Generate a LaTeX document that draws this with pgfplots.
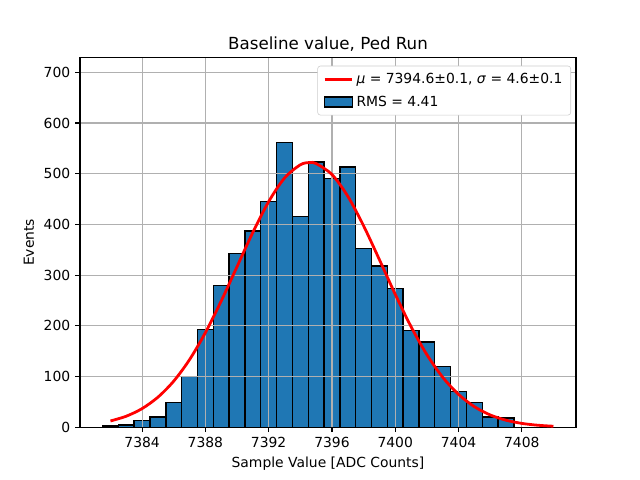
\documentclass[border=0pt]{standalone}
\usepackage{fontspec}
\setmainfont{DejaVu Sans}
\usepackage{pgfplots}
\pgfplotsset{compat=1.18}
\definecolor{mplblue}{HTML}{1F77B4}
\definecolor{gridgray}{HTML}{B0B0B0}
\definecolor{legedge}{HTML}{CCCCCC}
\pgfplotsset{frame/.style={
 at={(57.6pt,38.016pt)}, anchor=south west,
 scale only axis, width=357.12pt, height=266.112pt,
 xmin=7380.075, xmax=7411.425, ymin=0, ymax=729}}
\begin{document}
\begin{tikzpicture}
\begin{axis}[
 frame,
 xtick={7384,7388,7392,7396,7400,7404,7408},
 ytick={0,100,200,300,400,500,600,700},
 /pgf/number format/assume math mode=true,
 /pgf/number format/1000 sep={},
 tick label style={font=\fontsize{10}{12}\selectfont},
 tick align=outside, xtick pos=bottom, ytick pos=left,
 major tick length=3.5pt,
 every tick/.style={black, line width=0.8pt},
 axis line style={line width=0.8pt},
 grid=major, major grid style={gridgray, line width=0.8pt},
 axis on top,
 title={Baseline value, Ped Run},
 title style={font=\fontsize{12}{14}\selectfont, yshift=-5.3pt},
 xlabel={Sample Value [ADC Counts]},
 ylabel={Events},
 label style={font=\fontsize{10}{12}\selectfont},
]
\addplot[ybar interval, fill=mplblue, draw=black, line width=1pt] coordinates {
(7381.5,2) (7382.5,4) (7383.5,13) (7384.5,20) (7385.5,49) (7386.5,100)
(7387.5,193) (7388.5,279) (7389.5,343) (7390.5,387) (7391.5,445) (7392.5,561)
(7393.5,416) (7394.5,523) (7395.5,491) (7396.5,513) (7397.5,352) (7398.5,318)
(7399.5,274) (7400.5,191) (7401.5,168) (7402.5,120) (7403.5,70) (7404.5,49)
(7405.5,20) (7406.5,18) (7407.5,18)
};
\end{axis}
\begin{axis}[
 frame, hide axis,
 legend style={at={(0.99,0.978)}, anchor=north east, draw=legedge, rounded corners=2pt,
   fill=white, font=\fontsize{10}{12}\selectfont,
   inner xsep=4pt, inner ysep=3pt, row sep=3.5pt},
 legend cell align=left,
]
\addplot[red, line width=2pt, smooth, forget plot] coordinates {
(7382,12.3) (7383,21.7) (7384,36.7) (7385,59.2) (7386,90.9) (7387,133.3)
(7388,186.5) (7389,248.8) (7390,316.6) (7391,384.3) (7392,444.9) (7393,491.4)
(7394,517.6) (7394.6,522) (7395,520.0) (7396,498.4) (7397,455.6) (7398,397.2)
(7399,330.4) (7400,262.1) (7401,198.3) (7402,143.1) (7403,98.5) (7404,64.7)
(7405,40.5) (7406,24.2) (7407,13.8) (7408,7.5) (7409,3.9) (7410,1.9)
};
\addlegendimage{legend image code/.code={\draw[red, line width=2pt, sharp corners] (0pt,0pt) -- (20pt,0pt);}}
\addlegendentry{\textit{μ} = 7394.6±0.1, \textit{σ} = 4.6±0.1}
\addlegendimage{legend image code/.code={\draw[fill=mplblue, draw=black, line width=1pt, sharp corners] (0pt,-3.5pt) rectangle (20pt,3.5pt);}}
\addlegendentry{RMS = 4.41}
\end{axis}
\path[use as bounding box] (0pt,0pt) rectangle (460.8pt,345.6pt);
\end{tikzpicture}
\end{document}
